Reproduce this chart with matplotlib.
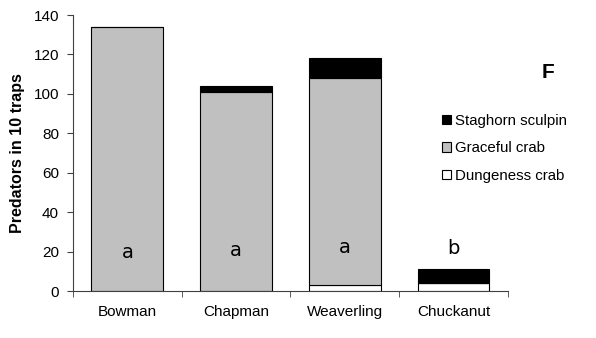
import matplotlib
matplotlib.use("Agg")
import matplotlib.pyplot as plt
import numpy as np

plt.rcParams['font.family'] = ['Liberation Sans', 'DejaVu Sans']

# data
sites = ['Bowman', 'Chapman', 'Weaverling', 'Chuckanut']
dungeness = [0, 0, 3, 4]
graceful = [134, 101, 105, 0]
staghorn = [0, 3, 10, 7]
letters = ['a', 'a', 'a', 'b']
letter_y = [17, 18, 19.5, 19]

fig = plt.figure(figsize=(5.96, 3.38), dpi=100)
ax = fig.add_axes([0.1225, 0.139, 0.7295, 0.8166])

x = np.arange(len(sites))
w = 0.66
d = np.array(dungeness)
g = np.array(graceful)
s = np.array(staghorn)

ax.bar(x, d, w, color='white', edgecolor='black', linewidth=0.8, label='Dungeness crab')
ax.bar(x, g, w, bottom=d, color='#c0c0c0', edgecolor='black', linewidth=0.8, label='Graceful crab')
ax.bar(x, s, w, bottom=d + g, color='black', edgecolor='black', linewidth=0.8, label='Staghorn sculpin')

# significance letters
for i, lt in enumerate(letters):
    ax.text(x[i], letter_y[i], lt, ha='center', va='baseline', fontsize=14,
            family='DejaVu Sans')

ax.set_xlim(-0.5, len(sites) - 0.5)
ax.set_ylim(0, 140)
ax.set_yticks(range(0, 141, 20))
ax.set_xticks(x)
ax.set_xticklabels(sites, fontsize=11)
ax.set_xticks(np.arange(-0.5, len(sites), 1), minor=True)
ax.tick_params(axis='x', which='major', length=0, pad=10)
ax.tick_params(axis='x', which='minor', length=4, direction='out', color='#404040')
ax.tick_params(axis='y', length=4, direction='out', labelsize=11, pad=6, color='#404040')
ax.set_ylabel('Predators in 10 traps', fontsize=11.5, fontweight='bold', labelpad=6)

for sp in ['top', 'right']:
    ax.spines[sp].set_visible(False)
for sp in ['left', 'bottom']:
    ax.spines[sp].set_color('#404040')

h, l = ax.get_legend_handles_labels()
fig.legend(h[::-1], l[::-1], loc='upper left', bbox_to_anchor=(0.719, 0.703),
           frameon=False, fontsize=10.8, handlelength=0.6, handleheight=0.6,
           handletextpad=0.25, labelspacing=0.9)

fig.text(0.92, 0.785, 'F', fontsize=15, fontweight='bold', ha='center', va='center')

fig.savefig('out.png', dpi=100)
